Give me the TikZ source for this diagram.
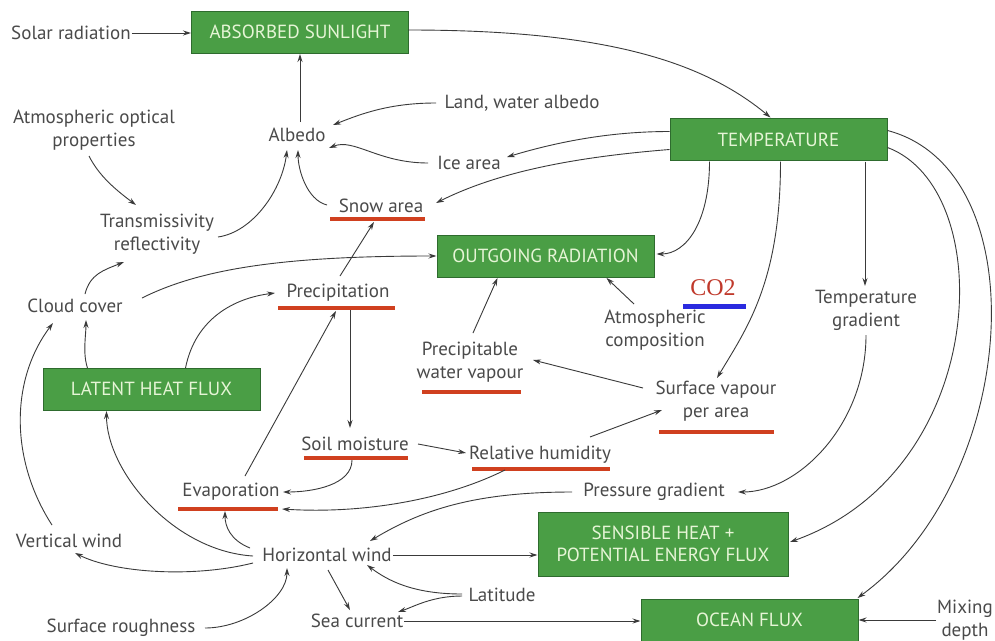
\documentclass[tikz,border=0pt]{standalone}
\usepackage{fontspec}
\setmainfont{PT Sans}
\newfontfamily\serifco{Liberation Serif}
\usetikzlibrary{arrows.meta,calc}
\definecolor{boxgreen}{HTML}{4A9E45}
\definecolor{boxedge}{HTML}{2E6B2E}
\definecolor{boxtext}{HTML}{E6F5D6}
\definecolor{txtgray}{HTML}{4A4A4A}
\definecolor{arrgray}{HTML}{3A3A3A}
\definecolor{ulred}{HTML}{D0401F}
\definecolor{ulblue}{HTML}{2A2ADF}
\definecolor{co2red}{HTML}{C0392B}
\tikzset{
  gbox/.style={draw=boxedge, line width=1pt, fill=boxgreen, text=boxtext, minimum width=217pt, minimum height=42pt, inner sep=0pt, align=center, font=\fontsize{19}{22}\selectfont},
  lbl/.style={text=txtgray, inner sep=1pt, align=center, font=\fontsize{19}{23}\selectfont},
  arr/.style={-{Stealth[length=8pt,width=5pt]}, draw=arrgray, line width=0.9pt},
  redul/.style={draw=ulred, line width=4pt},
  blueul/.style={draw=ulblue, line width=5pt}
}
\begin{document}
\begin{tikzpicture}[x=1pt,y=-1pt]
\useasboundingbox (0,0) rectangle (995,640);
\fill[white] (0,0) rectangle (995,640);
% green boxes
\node[gbox] (abs) at (300,32) {ABSORBED SUNLIGHT};
\node[gbox] (temp) at (778.5,139.5) {TEMPERATURE};
\node[gbox] (out) at (545.5,256) {OUTGOING RADIATION};
\node[gbox] (lhf) at (151.5,389) {LATENT HEAT FLUX};
\node[gbox, minimum width=250pt, minimum height=64pt] (shf) at (663,544) {SENSIBLE HEAT +\\POTENTIAL ENERGY FLUX};
\node[gbox] (ocean) at (749.5,620) {OCEAN FLUX};
% labels
\node[lbl] (solar) at (71,33) {Solar radiation};
\node[lbl] (land) at (522,103) {Land, water albedo};
\node[lbl] (aop) at (94,130) {Atmospheric optical\\properties};
\node[lbl] (albedo) at (297,135) {Albedo};
\node[lbl] (ice) at (469,163) {Ice area};
\node[lbl] (snow) at (381,206) {Snow area};
\node[lbl] (trans) at (157,234) {Transmissivity\\reflectivity};
\node[lbl] (cloud) at (75,306) {Cloud cover};
\node[lbl] (precip) at (338,293) {Precipitation};
\node[text=co2red, inner sep=1pt, font=\serifco\fontsize{24}{26}\selectfont] (co2) at (713,288) {CO2};
\node[lbl] (atmc) at (655,330) {Atmospheric\\composition};
\node[lbl] (tgrad) at (866,310) {Temperature\\gradient};
\node[lbl] (pwv) at (470,362) {Precipitable\\water vapour};
\node[lbl] (svpa) at (716,401) {Surface vapour\\per area};
\node[lbl] (soil) at (355,444) {Soil moisture};
\node[lbl] (rh) at (540,455) {Relative humidity};
\node[lbl] (evap) at (231,492) {Evaporation};
\node[lbl] (pg) at (654,492) {Pressure gradient};
\node[lbl] (vw) at (69,541) {Vertical wind};
\node[lbl] (hw) at (327,555) {Horizontal wind};
\node[lbl] (lat) at (502,595) {Latitude};
\node[lbl] (sr) at (121,628) {Surface roughness};
\node[lbl] (sea) at (357,621) {Sea current};
\node[lbl] (mix) at (965,620) {Mixing\\depth};
% underlines
\draw[redul] (330,219) -- (425,219);
\draw[redul] (278,308) -- (395,308);
\draw[blueul] (683,306) -- (746,306);
\draw[redul] (422,392) -- (521,392);
\draw[redul] (659,432) -- (774,432);
\draw[redul] (304,458) -- (408,458);
\draw[redul] (472,469) -- (610,469);
\draw[redul] (178,509) -- (278,509);
% connectors
\draw[arr] (solar.east) -- (solar.east -| abs.west);
\draw[arr] ($(abs)+(108,-2)$) .. controls +(192,0) and +(-70,-58) .. ($(temp)+(-8,-22)$);
\draw[arr] ($(albedo)+(3,-13)$) -- ($(abs)+(0,22)$);
\draw[arr] ($(land)+(-86,0)$) .. controls +(-45,0) and +(30,-12) .. ($(albedo)+(36,-10)$);
\draw[arr] ($(ice)+(-41,0)$) .. controls +(-50,0) and +(25,-10) .. ($(albedo)+(32,13)$);
\draw[arr] ($(temp)+(-109,-8)$) .. controls +(-60,0) and +(50,-15) .. ($(ice)+(38,-6)$);
\draw[arr] ($(temp)+(-109,10)$) .. controls +(-100,8) and +(60,-30) .. ($(snow)+(55,-3)$);
\draw[arr] ($(snow)+(-54,-1)$) .. controls +(-20,-5) and +(0,20) .. ($(albedo)+(1,15)$);
\draw[arr] ($(trans)+(61,3)$) .. controls +(35,-5) and +(-5,40) .. ($(albedo)+(-10,15)$);
\draw[arr] ($(aop)+(-5,26)$) .. controls +(10,20) and +(-20,-15) .. ($(trans)+(-21,-29)$);
\draw[arr] ($(cloud)+(10,-12)$) .. controls +(5,-20) and +(-20,8) .. ($(trans)+(-33,28)$);
\draw[arr] ($(cloud)+(67,-8)$) .. controls +(60,-30) and +(-150,0) .. (out.west);
\draw[arr] ($(precip)+(2,-17)$) -- ($(snow)+(-7,16)$);
\draw[arr] ($(temp)+(-69,22)$) .. controls +(0,60) and +(30,0) .. ($(out)+(111,-2)$);
\draw[arr] ($(atmc)+(-21,-26)$) -- ($(out)+(61,22)$);
\draw[arr] ($(pwv)+(3,-29)$) -- ($(out)+(-48,22)$);
\draw[arr] ($(temp)+(2,22)$) .. controls +(0,120) and +(30,-50) .. ($(svpa)+(1,-23)$);
\draw[arr] ($(temp)+(86.5,22)$) -- ($(tgrad)+(-1,-24)$);
\draw[arr] ($(temp)+(109,8)$) .. controls +(112,42) and +(200,-71) .. ($(shf)+(127,-2)$);
\draw[arr] ($(temp)+(109,-9)$) .. controls +(152,40) and +(162,-118) .. ($(ocean)+(108,-22)$);
\draw[arr] ($(tgrad)+(0,25)$) .. controls +(0,90) and +(60,0) .. ($(pg)+(84,0)$);
\draw[arr] ($(svpa)+(-73,-13)$) -- ($(pwv)+(63,-2)$);
\draw[arr] ($(rh)+(50,-18)$) -- ($(svpa)+(-54,9)$);
\draw[arr] ($(soil)+(63,0)$) -- ($(rh)+(-74,-2)$);
\draw[arr] ($(precip)+(12,17)$) -- ($(soil)+(-5,-16)$);
\draw[arr] ($(soil)+(-3,16)$) .. controls +(0,25) and +(30,0) .. ($(evap)+(52,0)$);
\draw[arr] ($(rh)+(-35,15)$) .. controls +(-60,30) and +(80,5) .. ($(evap)+(51,17)$);
\draw[arr] ($(evap)+(14,-16)$) -- ($(precip)+(-2,18)$);
\draw[arr] ($(lhf)+(34,-21)$) .. controls +(10,-50) and +(-40,5) .. ($(precip)+(-63,0)$);
\draw[arr] ($(lhf)+(-64,-21)$) .. controls +(-5,-15) and +(0,15) .. ($(cloud)+(11,14)$);
\draw[arr] ($(hw)+(-74,1)$) .. controls +(-80,-5) and +(0,60) .. ($(lhf)+(-45,22)$);
\draw[arr] ($(vw)+(-17,-16)$) .. controls +(-42,-65) and +(-43,57) .. ($(cloud)+(-22,17)$);
\draw[arr] ($(hw)+(-74,8)$) .. controls +(-60,15) and +(40,20) .. ($(vw)+(6,12)$);
\draw[arr] ($(hw)+(-77,-7)$) .. controls +(-20,-8) and +(0,15) .. ($(evap)+(-6,19)$);
\draw[arr] (hw.east) -- (hw.east -| shf.west);
\draw[arr] ($(sr)+(84,0)$) .. controls +(40,0) and +(0,30) .. ($(hw)+(-40,13)$);
\draw[arr] ($(hw)+(1,15)$) -- ($(sea)+(-7,-11)$);
\draw[arr] ($(lat)+(-40,-1)$) .. controls +(-50,0) and +(20,15) .. ($(hw)+(40,10)$);
\draw[arr] ($(lat)+(-40,1)$) .. controls +(-30,0) and +(15,-5) .. ($(sea)+(41,-9)$);
\draw[arr] (sea.east) -- (sea.east -| ocean.west);
\draw[arr] (mix.west) -- (mix.west -| ocean.east);
\draw[arr] ($(pg)+(-82,0)$) .. controls +(-100,0) and +(50,-30) .. ($(hw)+(43,-14)$);
\end{tikzpicture}
\end{document}
